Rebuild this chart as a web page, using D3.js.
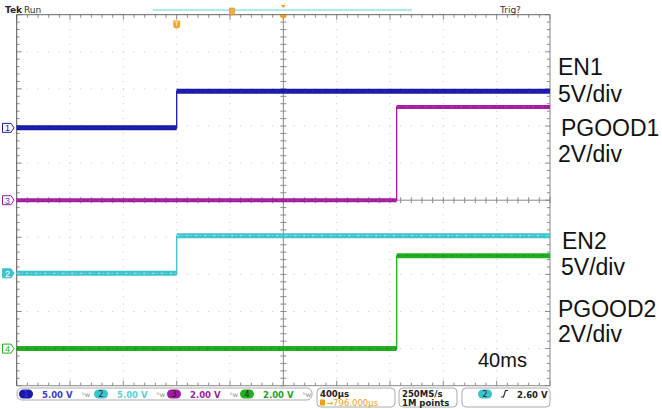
<!DOCTYPE html>
<html><head><meta charset="utf-8">
<script src="https://cdn.jsdelivr.net/npm/d3@7"></script>
<style>html,body{margin:0;padding:0;background:#fff;}svg{display:block;}</style>
</head><body>
<script>
// ---- data (time in µs across the 10-division screen, voltages in V) ----
const channels = ["1", "2", "3", "4"];
const channelNames = ["EN1", "EN2", "PGOOD1", "PGOOD2"];
const voltsPerDiv = [5, 5, 2, 2];
const groundDiv = [1.95, -1.97, 0, -4.0];       // marker level in divisions
const scaleLabels = ["5V/div", "5V/div", "2V/div", "2V/div"];
const timeSpan = [0, 4000];
const en1Time = [0, 1200, 1200, 4000];
const en1Volt = [0, 0, 4.93, 4.93];
const en2Time = [0, 1200, 1200, 4000];
const en2Volt = [0, 0, 5.07, 5.07];
const pgood1Time = [0, 2850, 2850, 4000];
const pgood1Volt = [0, 0, 5.03, 5.03];
const pgood2Time = [0, 2850, 2850, 4000];
const pgood2Volt = [0, 0, 5.0, 5.0];
const readouts = ["5.00 V", "5.00 V", "2.00 V", "2.00 V"];
const timebase = "400µs";
const triggerPos = "796.000µs";
const sampleInfo = ["250MS/s", "1M points"];
const trigLevel = "2.60 V";
const timeLabel = "40ms";

const W = 662, H = 409;
const svg = d3.select("body").append("svg").attr("width", W).attr("height", H)
  .style("font-family", "'Liberation Sans', Arial, sans-serif");

const x = d3.scaleLinear().domain(timeSpan).range([16.7, 550]);
const yDiv = d3.scaleLinear().domain([-5, 5]).range([385.7, 14.7]);
const xDiv = d3.scaleLinear().domain([0, 10]).range([16.7, 550]);

const colors = ["#1a1aa6", "#3cc4cc", "#a01ca0", "#22b022"];
const inner = ["#2a2ac8", "#9fe8ec", "#b43cb4", "#148a14"];
const isMajor = d => Math.abs(d - Math.round(d)) < 1e-6;

// ---- grid dots ----
const grid = svg.append("g");
const dots = [];
for (let i = 1; i < 10; i++) for (let j = 0; j <= 50; j++) dots.push([xDiv(i), yDiv(-5 + j / 5)]);
for (let j = 1; j < 10; j++) for (let i = 0; i <= 50; i++) dots.push([xDiv(i / 5), yDiv(-5 + j)]);
grid.selectAll("rect.d").data(dots).join("rect")
  .attr("x", d => d[0] - 0.5).attr("y", d => d[1] - 0.5).attr("width", 1).attr("height", 1)
  .attr("fill", "#c4c4c4");

// ---- center crosshair with minor ticks ----
const axisColor = "#8a8a8a";
grid.append("line").attr("x1", xDiv(5)).attr("x2", xDiv(5)).attr("y1", yDiv(5)).attr("y2", yDiv(-5)).attr("stroke", axisColor);
grid.append("line").attr("x1", xDiv(0)).attr("x2", xDiv(10)).attr("y1", yDiv(0)).attr("y2", yDiv(0)).attr("stroke", axisColor);
const vTicks = d3.range(0, 51).map(k => -5 + k / 5);
const hTicks = d3.range(0, 51).map(k => k / 5);
grid.selectAll("line.vt").data(vTicks).join("line")
  .attr("x1", xDiv(5) - 3).attr("x2", xDiv(5) + 3).attr("y1", d => yDiv(d)).attr("y2", d => yDiv(d)).attr("stroke", axisColor);
grid.selectAll("line.ht").data(hTicks).join("line")
  .attr("y1", yDiv(0) - 3).attr("y2", yDiv(0) + 3).attr("x1", d => xDiv(d)).attr("x2", d => xDiv(d)).attr("stroke", axisColor);
grid.selectAll("line.tt").data(hTicks).join("line")
  .attr("y1", yDiv(5)).attr("y2", d => yDiv(5) + (isMajor(d) ? 5 : 3))
  .attr("x1", d => xDiv(d)).attr("x2", d => xDiv(d)).attr("stroke", axisColor);
grid.selectAll("line.bt").data(hTicks).join("line")
  .attr("y1", yDiv(-5)).attr("y2", d => yDiv(-5) - (isMajor(d) ? 5 : 3))
  .attr("x1", d => xDiv(d)).attr("x2", d => xDiv(d)).attr("stroke", axisColor);
grid.selectAll("line.lt").data(vTicks).join("line")
  .attr("x1", xDiv(0)).attr("x2", d => xDiv(0) + (isMajor(d) ? 5 : 3))
  .attr("y1", d => yDiv(d)).attr("y2", d => yDiv(d)).attr("stroke", axisColor);
grid.selectAll("line.rt").data(vTicks).join("line")
  .attr("x1", xDiv(10)).attr("x2", d => xDiv(10) - (isMajor(d) ? 5 : 3))
  .attr("y1", d => yDiv(d)).attr("y2", d => yDiv(d)).attr("stroke", axisColor);
grid.append("line").attr("x1", xDiv(0)).attr("x2", xDiv(10)).attr("y1", yDiv(5)).attr("y2", yDiv(5)).attr("stroke", "#666");
grid.append("line").attr("x1", xDiv(0)).attr("x2", xDiv(10)).attr("y1", yDiv(-5)).attr("y2", yDiv(-5)).attr("stroke", "#888");
grid.append("line").attr("x1", xDiv(0)).attr("x2", xDiv(0)).attr("y1", yDiv(5)).attr("y2", yDiv(-5)).attr("stroke", "#555");
grid.append("line").attr("x1", xDiv(10)).attr("x2", xDiv(10)).attr("y1", yDiv(5)).attr("y2", yDiv(-5)).attr("stroke", "#888");

// ---- traces ----
const traces = [
  {ch: 0, t: en1Time, v: en1Volt, w: 5},
  {ch: 2, t: pgood1Time, v: pgood1Volt, w: 4},
  {ch: 1, t: en2Time, v: en2Volt, w: 5},
  {ch: 3, t: pgood2Time, v: pgood2Volt, w: 5}
];
const tg = svg.append("g");
traces.forEach(tr => {
  const pts = tr.t.map((t, i) => [x(t), yDiv(groundDiv[tr.ch] + tr.v[i] / voltsPerDiv[tr.ch])]);
  tg.append("path").attr("d", d3.line()(pts)).attr("fill", "none")
    .attr("stroke", colors[tr.ch]).attr("stroke-width", 1.3);
  for (let i = 0; i < pts.length - 1; i++) {
    if (tr.v[i] === tr.v[i + 1]) {
      const seg = [pts[i], pts[i + 1]];
      tg.append("path").attr("d", d3.line()(seg)).attr("stroke", colors[tr.ch]).attr("stroke-width", tr.w);
      tg.append("path").attr("d", d3.line()(seg)).attr("stroke", inner[tr.ch]).attr("stroke-width", 1)
        .attr("stroke-dasharray", "3,2,1,3");
    }
  }
});

// ---- channel ground markers ----
const mk = svg.append("g");
channels.forEach((c, i) => {
  const yy = yDiv(groundDiv[i]);
  mk.append("path").attr("d", `M2.5,${yy - 4.5}H11L14,${yy}L11,${yy + 4.5}H2.5Z`)
    .attr("fill", i === 1 ? colors[i] : "#fff").attr("stroke", colors[i]).attr("stroke-width", 1);
  mk.append("text").attr("x", 7.5).attr("y", yy + 3.5).attr("text-anchor", "middle")
    .attr("font-size", 9).attr("fill", i === 1 ? "#fff" : colors[i]).text(c);
});

// ---- top status ----
const topG = svg.append("g").style("font-family", "'DejaVu Sans', sans-serif");
topG.append("text").attr("x", 5).attr("y", 13).attr("font-size", 9).attr("font-weight", "bold").attr("fill", "#222").text("Tek");
topG.append("text").attr("x", 24).attr("y", 13).attr("font-size", 9).attr("fill", "#333").text("Run");
topG.append("text").attr("x", 500).attr("y", 12.5).attr("font-size", 9).attr("fill", "#333").text("Trig?");
topG.append("line").attr("x1", 153).attr("x2", 412).attr("y1", 10).attr("y2", 10).attr("stroke", "#5fd6dc").attr("stroke-width", 1.2);
topG.append("rect").attr("x", 229.5).attr("y", 8).attr("width", 5).attr("height", 7).attr("fill", "#f0b040").attr("stroke", "#d08a10").attr("stroke-width", 0.6);
topG.append("path").attr("d", `M${xDiv(5) - 2.5},5H${xDiv(5) + 2.5}L${xDiv(5)},8Z`).attr("fill", "#f0a020");
topG.append("path").attr("d", `M${xDiv(5) - 3.5},${yDiv(5)}A3.5,3.5 0 0 0 ${xDiv(5) + 3.5},${yDiv(5)}Z`).attr("fill", "#f0a020");
topG.append("path").attr("d", `M${x(1200) - 3.5},20.5H${x(1200) + 3.5}V25A3.5,3.5 0 0 1 ${x(1200) - 3.5},25Z`).attr("fill", "#f3a72a");
topG.append("text").attr("x", x(1200)).attr("y", 26).attr("text-anchor", "middle").attr("font-size", 6).attr("fill", "#fff").text("T");

// ---- right labels ----
const lab = svg.append("g").attr("font-size", 23).attr("fill", "#111");
[[channelNames[0], 558, 75], [scaleLabels[0], 558, 102], [channelNames[2], 561, 136], [scaleLabels[2], 558, 162],
 [channelNames[1], 562, 249], [scaleLabels[1], 561, 275], [channelNames[3], 558, 317], [scaleLabels[3], 558, 342]]
  .forEach(d => lab.append("text").attr("x", d[1]).attr("y", d[2]).text(d[0]));
svg.append("text").attr("x", 478).attr("y", 367).attr("font-size", 20).attr("fill", "#111").text(timeLabel);

// ---- bottom status bar ----
const bot = svg.append("g").style("font-family", "'DejaVu Sans', sans-serif").attr("font-size", 8.5);
bot.append("rect").attr("x", 17).attr("y", 388).attr("width", 295).attr("height", 12).attr("rx", 5).attr("fill", "#fff").attr("stroke", "#aaa");
const chX = [19, 94, 167, 240];
const txtCol = ["#3c3cc8", "#5ccfd6", "#a020a0", "#22a022"];
channels.forEach((c, i) => {
  bot.append("rect").attr("x", chX[i]).attr("y", 389.5).attr("width", 14).attr("height", 9).attr("rx", 4.5).attr("fill", colors[i]);
  bot.append("text").attr("x", chX[i] + 7).attr("y", 397.3).attr("text-anchor", "middle").attr("font-size", 8)
    .attr("fill", i === 0 ? "#3a3af0" : "#222").text(c);
  bot.append("text").attr("x", chX[i] + 23).attr("y", 397.5).attr("font-weight", "bold").attr("fill", txtCol[i]).text(readouts[i]);
  bot.append("text").attr("x", chX[i] + 63).attr("y", 397).attr("font-size", 6.5).attr("fill", "#888").text("ᵇw");
});
bot.append("rect").attr("x", 317).attr("y", 388).attr("width", 78).attr("height", 19).attr("rx", 4).attr("fill", "#fff").attr("stroke", "#aaa");
bot.append("text").attr("x", 320).attr("y", 396.5).attr("font-weight", "bold").attr("fill", "#222").text(timebase);
bot.append("rect").attr("x", 320).attr("y", 399.5).attr("width", 5).attr("height", 6).attr("fill", "#f0a020");
bot.append("text").attr("x", 326).attr("y", 405.5).attr("fill", "#f0a020").text("→" + triggerPos);
bot.append("rect").attr("x", 399).attr("y", 388).attr("width", 58).attr("height", 19).attr("rx", 4).attr("fill", "#fff").attr("stroke", "#aaa");
bot.append("text").attr("x", 402).attr("y", 396.5).attr("font-weight", "bold").attr("fill", "#222").text(sampleInfo[0]);
bot.append("text").attr("x", 402).attr("y", 405.5).attr("font-weight", "bold").attr("fill", "#222").text(sampleInfo[1]);
bot.append("rect").attr("x", 462).attr("y", 388).attr("width", 88).attr("height", 19).attr("rx", 4).attr("fill", "#fff").attr("stroke", "#aaa");
bot.append("rect").attr("x", 478).attr("y", 389.5).attr("width", 14).attr("height", 9).attr("rx", 4.5).attr("fill", colors[1]);
bot.append("text").attr("x", 485).attr("y", 397.3).attr("text-anchor", "middle").attr("font-size", 8).attr("fill", "#222").text(channels[1]);
bot.append("path").attr("d", "M501,397H503.5L505.5,390.5H508").attr("fill", "none").attr("stroke", "#222").attr("stroke-width", 1.1);
bot.append("text").attr("x", 517).attr("y", 397.5).attr("font-weight", "bold").attr("fill", "#222").text(trigLevel);
</script>
</body></html>
